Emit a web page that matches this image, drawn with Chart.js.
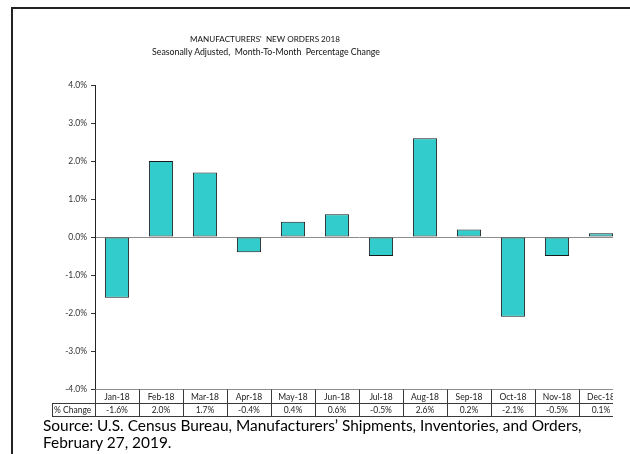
<!DOCTYPE html>
<html>
<head>
<meta charset="utf-8">
<script src="https://cdn.jsdelivr.net/npm/chart.js@4.4.1/dist/chart.umd.min.js"></script>
<style>
  html, body { margin:0; padding:0; background:#fff; }
  body { width:630px; height:454px; position:relative; overflow:hidden; font-family: Lato, "Noto Sans", sans-serif; }
  #frame { position:absolute; left:11px; top:7px; width:640px; height:460px; border-left:2px solid #222; border-top:2px solid #222; }
  #clip { position:absolute; left:0; top:0; width:613px; height:454px; overflow:hidden; }
  #chart { position:absolute; left:0; top:0; }
  .t { position:absolute; white-space:nowrap; color:#111; line-height:1; }
  #title { top:35px; font-size:9.5px; }
  #subtitle { top:48px; font-size:9.5px; }
  #src1, #src2 { left:43px; font-size:15.5px; color:#000; }
  #src1 { top:418px; }
  #src2 { top:435px; }
</style>
</head>
<body>
<div id="frame"></div>
<div id="clip"><canvas id="chart" width="640" height="454"></canvas></div>
<div class="t" id="title">MANUFACTURERS'&nbsp; NEW ORDERS 2018</div>
<div class="t" id="subtitle">Seasonally Adjusted,&nbsp; Month-To-Month&nbsp; Percentage Change</div>
<div class="t" id="src1">Source: U.S. Census Bureau, Manufacturers’ Shipments, Inventories, and Orders,</div>
<div class="t" id="src2">February 27, 2019.</div>
<script>
// ---- data ----
const categories = ["Jan-18","Feb-18","Mar-18","Apr-18","May-18","Jun-18","Jul-18","Aug-18","Sep-18","Oct-18","Nov-18","Dec-18"];
const pctChange = [-1.6, 2.0, 1.7, -0.4, 0.4, 0.6, -0.5, 2.6, 0.2, -2.1, -0.5, 0.1];
const rowLabel = "% Change";
const yMin = -4, yMax = 4, yStep = 1;

// ---- text fitting (layout only) ----
function fitWidth(id, target, centerX) {
  const el = document.getElementById(id);
  const fs = parseFloat(getComputedStyle(el).fontSize);
  const w = el.getBoundingClientRect().width;
  el.style.fontSize = (fs * target / w) + 'px';
  if (centerX !== undefined) {
    const w2 = el.getBoundingClientRect().width;
    el.style.left = (centerX - w2 / 2) + 'px';
  }
}
fitWidth('title', 150, 265);
fitWidth('subtitle', 228, 266);
fitWidth('src1', 539);
document.getElementById('src2').style.fontSize = document.getElementById('src1').style.fontSize;

const tickFont = { family: 'Lato', size: 8.5 };

const tablePlugin = {
  id: 'dataTable',
  afterDraw(chart) {
    const { ctx, chartArea, scales: { x } } = chart;
    const n = categories.length;
    const w = x.width / n;
    const top = Math.round(chartArea.bottom) + 0.5;
    const mid = top + 14;
    const bot = top + 27;
    const left = chartArea.left;
    const right = chartArea.right;
    ctx.save();
    ctx.lineWidth = 1;
    // axis line
    ctx.strokeStyle = '#8c8c8c';
    ctx.beginPath(); ctx.moveTo(left, top); ctx.lineTo(right, top); ctx.stroke();
    ctx.strokeStyle = '#3a3a3a';
    ctx.beginPath();
    ctx.moveTo(left, mid); ctx.lineTo(right, mid);
    ctx.moveTo(52, bot); ctx.lineTo(right, bot);
    ctx.moveTo(52, mid); ctx.lineTo(left, mid);
    ctx.moveTo(52.5, mid); ctx.lineTo(52.5, bot);
    for (let i = 0; i <= n; i++) {
      const px = Math.round(x.getPixelForValue(i - 0.5)) + 0.5;
      ctx.moveTo(px, top); ctx.lineTo(px, bot);
    }
    ctx.stroke();
    ctx.fillStyle = '#222';
    ctx.font = tickFont.size + 'px ' + tickFont.family;
    ctx.textBaseline = 'middle';
    ctx.textAlign = 'center';
    for (let i = 0; i < n; i++) {
      const cx = x.getPixelForValue(i);
      ctx.fillText(categories[i], cx, (top + mid) / 2 + 0.5);
      ctx.fillText(pctChange[i].toFixed(1) + '%', cx, (mid + bot) / 2 + 0.5);
    }
    ctx.textAlign = 'left';
    ctx.fillText(rowLabel, 54, (mid + bot) / 2 + 0.5);
    ctx.restore();
  }
};

new Chart(document.getElementById('chart'), {
  type: 'bar',
  data: {
    labels: categories,
    datasets: [{
      data: pctChange,
      backgroundColor: '#33CCCC',
      borderColor: '#1a1a1a',
      borderWidth: 1,
      borderSkipped: false,
      categoryPercentage: 1.0,
      barPercentage: 0.55
    }]
  },
  options: {
    responsive: false,
    animation: false,
    devicePixelRatio: 1,
    layout: { padding: { top: 85, bottom: 65, left: 0, right: 17 } },
    plugins: { legend: { display: false }, tooltip: { enabled: false }, title: { display: false } },
    scales: {
      x: { display: false },
      y: {
        min: yMin, max: yMax,
        afterFit(scale) { scale.width = 95; },
        ticks: {
          stepSize: yStep,
          padding: 4,
          color: '#333',
          font: tickFont,
          callback: v => v.toFixed(1) + '%'
        },
        grid: {
          drawTicks: true,
          tickLength: 4,
          tickColor: '#333',
          color: c => (c.tick && c.tick.value === 0) ? '#8c8c8c' : 'rgba(0,0,0,0)'
        },
        border: { display: true, color: '#222', width: 1 }
      }
    }
  },
  plugins: [tablePlugin]
});
</script>
</body>
</html>
